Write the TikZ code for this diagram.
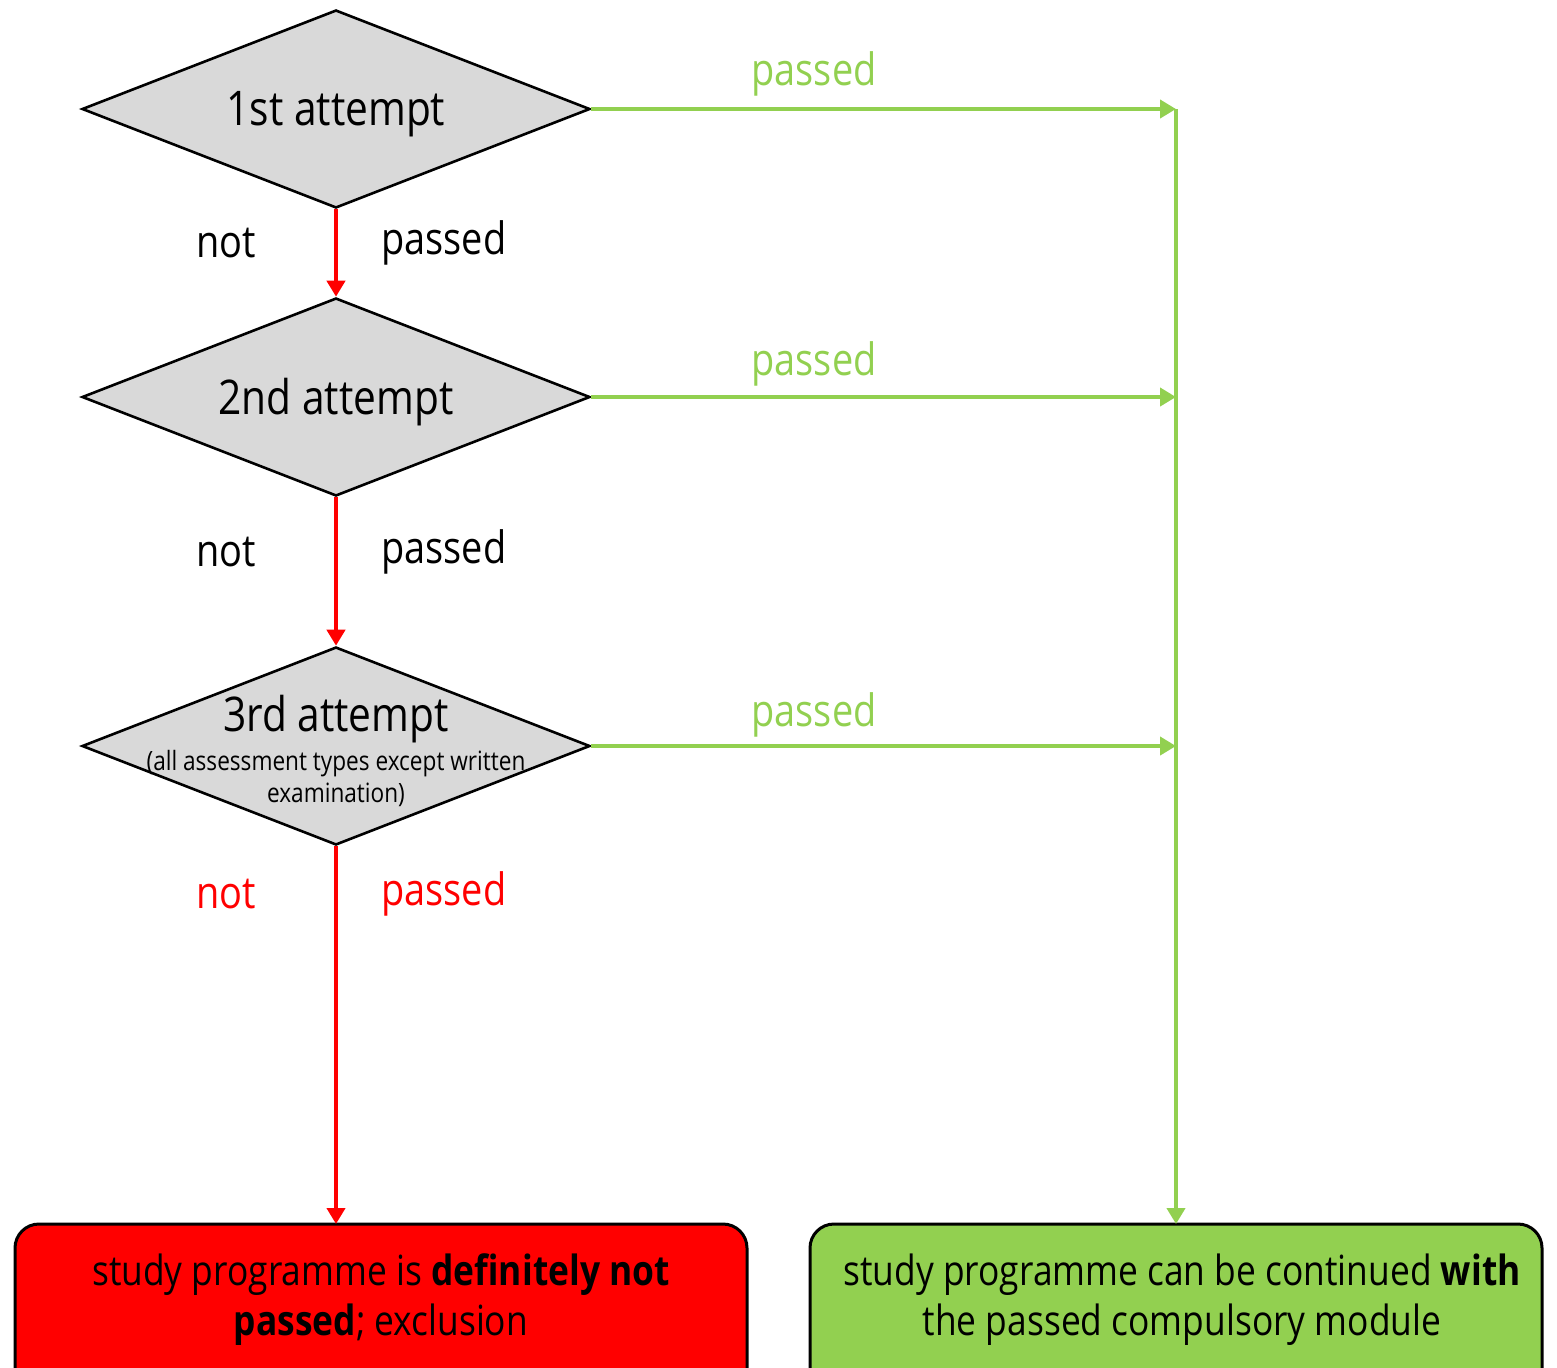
\documentclass[tikz,border=0pt]{standalone}
\usepackage{fontspec}
\setmainfont{Open Sans}[FakeStretch=0.85]
\usetikzlibrary{shapes.geometric,arrows.meta}
\definecolor{grn}{RGB}{146,208,80}
\definecolor{dgray}{RGB}{217,217,217}
\tikzset{
  dec/.style={diamond, draw=black, line width=1.3pt, fill=dgray, minimum width=254pt, minimum height=99pt, aspect=2.57, inner sep=0pt},
  redarr/.style={draw=red, line width=2.4pt, -{Triangle[length=8pt,width=9pt]}},
  grnarr/.style={draw=grn, line width=2.4pt, -{Triangle[length=8pt,width=9pt]}},
  grnline/.style={draw=grn, line width=2.4pt},
  lbl/.style={font=\fontsize{22.3}{26}\selectfont},
  ttl/.style={font=\fontsize{23.9}{28}\selectfont},
  boxtxt/.style={font=\fontsize{20.8}{25}\selectfont, align=center},
  endbox/.style={draw=black, line width=1.5pt, rounded corners=12pt}
}
\begin{document}
\begin{tikzpicture}[x=0.5pt,y=-0.5pt]
\useasboundingbox (0,0) rectangle (1557,1367);
\clip (0,0) rectangle (1557,1367);
% diamonds
\node[dec] (d1) at (336,109) {};
\node[dec] (d2) at (336,397) {};
\node[dec] (d3) at (336,746) {};
\node[ttl] (t1) at (336,114) {1st attempt};
\node[ttl] (t2) at (336,402) {2nd attempt};
\node[ttl] (t3) at (336,719) {3rd attempt};
\node[font=\fontsize{13.3}{16}\selectfont, align=center] (t3b) at (336,778) {(all assessment types except written\\examination)};
% end boxes
\path[endbox, fill=red] (15,1224) rectangle (747,1400);
\path[endbox, fill=grn] (810,1224) rectangle (1542,1400);
\coordinate (rb) at (336,1224);
\coordinate (gb) at (1176,1224);
\node[boxtxt] (rt) at (381,1300) {study programme is \textbf{definitely not}\\\textbf{passed}; exclusion};
\node[boxtxt] (gt) at (1182,1300) {study programme can be continued \textbf{with}\\the passed compulsory module};
% junction coordinates
\coordinate (j1) at (1176,109);
\coordinate (j2) at (1176,397);
\coordinate (j3) at (1176,746);
% red arrows
\draw[redarr] (d1.south) -- (d2.north);
\draw[redarr] (d2.south) -- (d3.north);
\draw[redarr] (d3.south) -- (rb);
% green arrows
\draw[grnarr] (d1.east) -- (j1);
\draw[grnarr] (d2.east) -- (j2);
\draw[grnarr] (d3.east) -- (j3);
\draw[grnline] (j1) -- (j3);
\draw[grnarr] (j3) -- (gb);
% labels
\node[lbl, text=grn] (p1) at (814,74) {passed};
\node[lbl, text=grn] (p2) at (814,364) {passed};
\node[lbl, text=grn] (p3) at (814,715) {passed};
\node[lbl] (n1) at (226,243) {not};
\node[lbl] (f1) at (444,243) {passed};
\node[lbl] (n2) at (226,552) {not};
\node[lbl] (f2) at (444,552) {passed};
\node[lbl, text=red] (n3) at (226,894) {not};
\node[lbl, text=red] (f3) at (444,894) {passed};
\end{tikzpicture}
\end{document}
